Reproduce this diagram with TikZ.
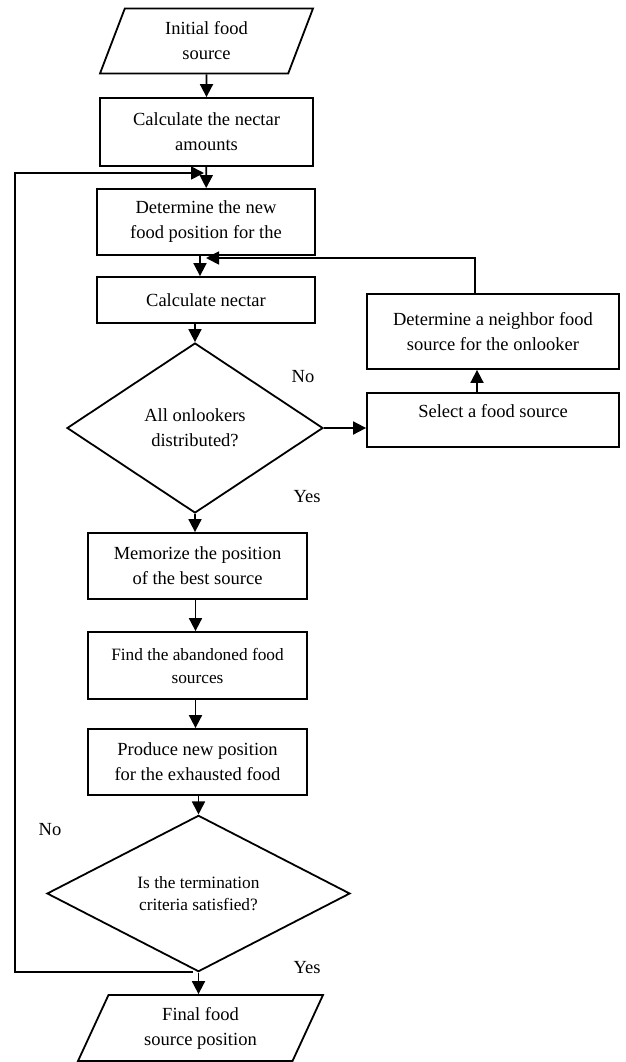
\documentclass[tikz,border=0pt]{standalone}
\usepackage{fontspec}
\setmainfont{Liberation Serif}
\usetikzlibrary{shapes.geometric,arrows.meta}

\begin{document}
\begin{tikzpicture}[x=1pt,y=-1pt,line width=1.8pt,
    box/.style={shape=rectangle, draw, inner sep=0pt, align=center, font=\fontsize{18.5}{25}\selectfont},
    smallbox/.style={box, font=\fontsize{17.3}{23}\selectfont},
    io/.style={shape=trapezium, draw, trapezium stretches body, inner sep=0pt, align=center, font=\fontsize{18.5}{25}\selectfont},
    decide/.style={shape=diamond, draw, inner sep=0pt, align=center, font=\fontsize{18.5}{25}\selectfont},
    arr/.style={-{Triangle[length=13pt,width=13pt]}},
    lbl/.style={font=\fontsize{18.5}{25}\selectfont}]
    \useasboundingbox (0,0) rectangle (625,1062);

    \node (init) at (206.5,41) [io, trapezium left angle=57, trapezium right angle=123, minimum width=213, minimum height=65] {Initial food\\source};
    \node (amounts) at (206.5,132) [box, minimum width=213, minimum height=68] {Calculate the nectar\\amounts};
    \node (newpos) at (206,222) [box, minimum width=218, minimum height=66] {Determine the new\\food position for the};
    \node (nectar) at (206,300) [box, minimum width=218, minimum height=46] {Calculate nectar};
    \node (onlook) at (195,428) [decide, minimum width=256, minimum height=170] {All onlookers\\distributed?};
    \node (neighbor) at (493,331.5) [box, minimum width=252, minimum height=75] {Determine a neighbor food\\source for the onlooker};
    \node (select) at (493,420) [box, text depth=18pt, minimum width=252, minimum height=54] {Select a food source};
    \node (memo) at (197.5,566) [box, minimum width=219, minimum height=66] {Memorize the position\\of the best source};
    \node (find) at (197.5,665.5) [smallbox, minimum width=219, minimum height=67] {Find the abandoned food\\sources};
    \node (produce) at (197.5,762) [box, minimum width=219, minimum height=66] {Produce new position\\for the exhausted food};
    \node (term) at (198.5,893.5) [decide, font=\fontsize{17.3}{22}\selectfont, minimum width=303, minimum height=137] {Is the termination\\criteria satisfied?};
    \node (final) at (200.5,1028) [io, trapezium left angle=54, trapezium right angle=126, minimum width=245, minimum height=66] {Final food\\source position};

    \node (no1) at (303,377) [lbl] {No};
    \node (yes1) at (307,497) [lbl] {Yes};
    \node (no2) at (50,830) [lbl] {No};
    \node (yes2) at (307,968) [lbl] {Yes};

    \coordinate (nobranch) at (193,972);
    \coordinate (back) at (204,173);
    \coordinate (rejoin) at (206,258);

    \path [arr] (init) edge (amounts)
    (amounts) edge (newpos)
    ([xshift=-6]newpos.south) edge ([xshift=-6]newpos.south |- nectar.north)
    (nectar.south -| onlook.north) edge (onlook.north)
    (onlook.east) edge (onlook.east -| select.west)
    ([xshift=-16]select.north) edge ([xshift=-16]neighbor.south)
    (onlook.south) edge (onlook.south |- memo.north)
    ([xshift=-2]memo.south) edge ([xshift=-2]memo.south |- find.north)
    ([xshift=-2]find.south) edge ([xshift=-2]find.south |- produce.north)
    (produce.south -| term.north) edge (term.north)
    (term.south) edge (term.south |- final.north);

    \draw [arr] ([xshift=-18]neighbor.north) |- (rejoin);
    \draw [arr] (nobranch) -| (15,173) -- (back);
\end{tikzpicture}
\end{document}
